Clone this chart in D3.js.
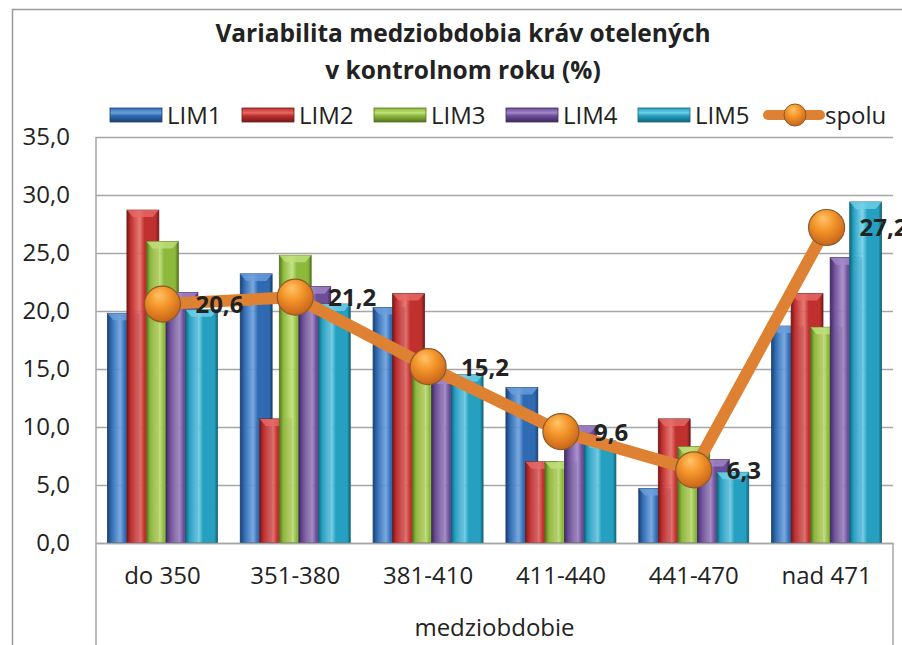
<!DOCTYPE html>
<html>
<head>
<meta charset="utf-8">
<script src="https://cdn.jsdelivr.net/npm/d3@7"></script>
<style>
  body { margin: 0; background: #fff; }
  svg { display: block; font-family: "Open Sans", sans-serif; }
</style>
</head>
<body>
<svg width="902" height="645"></svg>
<script>
const categories = ["do 350", "351-380", "381-410", "411-440", "441-470", "nad 471"];
const seriesNames = ["LIM1", "LIM2", "LIM3", "LIM4", "LIM5"];
const lim1 = [19.8, 23.2, 20.3, 13.4, 4.7, 18.7];
const lim2 = [28.7, 10.7, 21.5, 7.0, 10.7, 21.5];
const lim3 = [26.0, 24.8, 15.0, 7.0, 8.3, 18.6];
const lim4 = [21.6, 22.1, 14.3, 10.1, 7.2, 24.6];
const lim5 = [20.1, 20.6, 14.5, 8.8, 6.1, 29.4];
const spolu = [20.6, 21.2, 15.2, 9.6, 6.3, 27.2];
const yTicks = [0, 5, 10, 15, 20, 25, 30, 35];

const seriesValues = [lim1, lim2, lim3, lim4, lim5];
const colors = ["#2f6bb3", "#c0302e", "#8cb83c", "#6c4d98", "#26a0c0"];
const dark = ["#1c416f", "#74191a", "#56731f", "#3f2b5d", "#146478"];
const light = ["#6b9fdc", "#e56a66", "#bfe07a", "#a287c9", "#6fd0e8"];

const svg = d3.select("svg");
const plot = {left: 96, right: 893, top: 137, bottom: 543};
const fmt = v => v.toFixed(1).replace(".", ",");

const defs = svg.append("defs");
colors.forEach((c, i) => {
  const g = defs.append("linearGradient").attr("id", "bar" + i)
    .attr("x1", 0).attr("x2", 1).attr("y1", 0).attr("y2", 0);
  g.append("stop").attr("offset", 0).attr("stop-color", dark[i]);
  g.append("stop").attr("offset", 0.12).attr("stop-color", c);
  g.append("stop").attr("offset", 0.4).attr("stop-color", light[i]).attr("stop-opacity", 0.9);
  g.append("stop").attr("offset", 0.55).attr("stop-color", c);
  g.append("stop").attr("offset", 0.9).attr("stop-color", c);
  g.append("stop").attr("offset", 1).attr("stop-color", dark[i]);

  const lg = defs.append("linearGradient").attr("id", "leg" + i)
    .attr("x1", 0).attr("x2", 0).attr("y1", 0).attr("y2", 1);
  lg.append("stop").attr("offset", 0).attr("stop-color", c);
  lg.append("stop").attr("offset", 0.35).attr("stop-color", light[i]);
  lg.append("stop").attr("offset", 0.55).attr("stop-color", c);
  lg.append("stop").attr("offset", 1).attr("stop-color", dark[i]);
});
const rg = defs.append("radialGradient").attr("id", "ball")
  .attr("cx", 0.45).attr("cy", 0.35).attr("r", 0.65).attr("fx", 0.4).attr("fy", 0.25);
rg.append("stop").attr("offset", 0).attr("stop-color", "#ffc46a");
rg.append("stop").attr("offset", 0.45).attr("stop-color", "#f5962a");
rg.append("stop").attr("offset", 1).attr("stop-color", "#c7641a");

// outer frame
svg.append("rect").attr("x", 12.5).attr("y", 9.5).attr("width", 1000).attr("height", 1000)
  .attr("fill", "none").attr("stroke", "#9a9a9a").attr("stroke-width", 1.5);

// title
svg.append("text").attr("x", 463).attr("y", 42).attr("text-anchor", "middle")
  .attr("font-weight", "bold").attr("font-size", 24.5).attr("fill", "#222")
  .text("Variabilita medziobdobia kráv otelených");
svg.append("text").attr("x", 463).attr("y", 79).attr("text-anchor", "middle")
  .attr("font-weight", "bold").attr("font-size", 24.5).attr("fill", "#222")
  .text("v kontrolnom roku (%)");

const x = d3.scaleBand().domain(categories).range([plot.left, plot.right]).padding(0);
const y = d3.scaleLinear().domain([0, 35]).range([plot.bottom, plot.top]);
const bw = x.bandwidth();
const barW = bw * 0.24;
const barStep = bw * 0.147;
const groupW = barStep * 4 + barW;
const barX = (c, i) => x(c) + (bw - groupW) / 2 + i * barStep;

// grid + y axis
const yAxis = svg.append("g").attr("transform", `translate(${plot.left},0)`)
  .call(d3.axisLeft(y).tickValues(yTicks).tickSize(-(plot.right - plot.left)).tickPadding(26).tickFormat(fmt));
yAxis.select(".domain").remove();
yAxis.selectAll(".tick line").attr("stroke", "#a6a6a6").attr("stroke-width", 1.5);
yAxis.selectAll(".tick text").attr("font-size", 24).attr("fill", "#222")
  .attr("font-family", "Open Sans, sans-serif");

svg.append("line").attr("x1", plot.left).attr("x2", plot.left).attr("y1", plot.top).attr("y2", 645)
  .attr("stroke", "#a6a6a6").attr("stroke-width", 1.5);
svg.append("line").attr("x1", plot.right).attr("x2", plot.right).attr("y1", plot.bottom).attr("y2", 645)
  .attr("stroke", "#a6a6a6").attr("stroke-width", 1.5);

// bars
seriesValues.forEach((vals, i) => {
  const g = svg.append("g");
  const bars = g.selectAll("g").data(categories.map((c, j) => ({c, v: vals[j]}))).join("g");
  bars.append("rect")
    .attr("x", d => barX(d.c, i)).attr("y", d => y(d.v))
    .attr("width", barW).attr("height", d => y(0) - y(d.v))
    .attr("fill", `url(#bar${i})`).attr("stroke", dark[i]).attr("stroke-width", 0.8);
  bars.append("path")
    .attr("d", d => {
      const x0 = barX(d.c, i), y0 = y(d.v);
      return `M${x0},${y0}H${x0 + barW}L${x0 + barW - 6},${y0 + 7}H${x0 + 6}Z`;
    })
    .attr("fill", light[i]).attr("opacity", 0.8);
});

// x axis labels
const xAxis = svg.append("g").attr("transform", `translate(0,${plot.bottom})`)
  .call(d3.axisBottom(x).tickSize(0).tickPadding(24));
xAxis.select(".domain").attr("stroke", "#a6a6a6").attr("stroke-width", 1.5);
xAxis.selectAll(".tick text").attr("font-size", 24).attr("fill", "#222")
  .attr("font-family", "Open Sans, sans-serif");

svg.append("text").attr("x", (plot.left + plot.right) / 2).attr("y", 636)
  .attr("text-anchor", "middle").attr("font-size", 24).attr("fill", "#222").text("medziobdobie");

// spolu line
const cx = c => x(c) + bw / 2;
svg.append("path").datum(spolu)
  .attr("d", d3.line().x((d, j) => cx(categories[j])).y(d => y(d)))
  .attr("fill", "none").attr("stroke", "#de8132").attr("stroke-width", 12).attr("stroke-linejoin", "round");
svg.selectAll(".ball").data(spolu).join("circle").attr("class", "ball")
  .attr("cx", (d, j) => cx(categories[j])).attr("cy", d => y(d)).attr("r", 18)
  .attr("fill", "url(#ball)").attr("stroke", "#8c5a2c").attr("stroke-width", 1.2);
svg.selectAll(".lbl").data(spolu).join("text").attr("class", "lbl")
  .attr("x", (d, j) => cx(categories[j]) + 33).attr("y", d => y(d) + 9)
  .attr("font-size", 24).attr("font-weight", "bold").attr("fill", "#222")
  .text(fmt);

// legend
const legendX = [110, 242, 374, 506, 638];
const leg = svg.append("g");
seriesNames.forEach((n, i) => {
  leg.append("rect").attr("x", legendX[i]).attr("y", 108).attr("width", 52).attr("height", 14)
    .attr("fill", `url(#leg${i})`).attr("stroke", dark[i]).attr("stroke-width", 0.8);
  leg.append("text").attr("x", legendX[i] + 57).attr("y", 124).attr("font-size", 24).attr("fill", "#222").text(n);
});
leg.append("line").attr("x1", 768).attr("x2", 820).attr("y1", 115).attr("y2", 115)
  .attr("stroke", "#de8132").attr("stroke-width", 10).attr("stroke-linecap", "round");
leg.append("circle").attr("cx", 795).attr("cy", 115).attr("r", 11)
  .attr("fill", "url(#ball)").attr("stroke", "#8c5a2c").attr("stroke-width", 1);
leg.append("text").attr("x", 825).attr("y", 124).attr("font-size", 24).attr("fill", "#222").text("spolu");
</script>
</body>
</html>
